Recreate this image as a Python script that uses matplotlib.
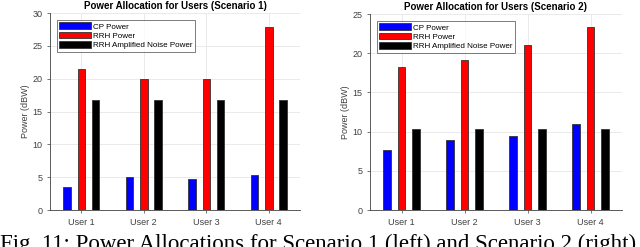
import matplotlib
matplotlib.use("Agg")
import matplotlib.pyplot as plt
import numpy as np

users = ["User 1", "User 2", "User 3", "User 4"]
series = ["CP Power", "RRH Power", "RRH Amplified Noise Power"]
colors = ["#0000ff", "#ff0000", "#000000"]

s1_cp = [3.5, 5.0, 4.7, 5.3]
s1_rrh = [21.5, 20.0, 20.0, 27.9]
s1_noise = [16.8, 16.8, 16.8, 16.8]

s2_cp = [7.6, 8.9, 9.5, 11.0]
s2_rrh = [18.3, 19.1, 21.1, 23.3]
s2_noise = [10.3, 10.3, 10.3, 10.3]

plt.rcParams["font.family"] = ["Liberation Sans", "DejaVu Sans"]

fig = plt.figure(figsize=(6.4, 2.47), dpi=100)
ax1 = fig.add_axes([50 / 640, 1 - 210 / 247, 250 / 640, 197 / 247])
ax2 = fig.add_axes([370 / 640, 1 - 210 / 247, 252 / 640, 196 / 247])

x = np.arange(1, len(users) + 1)
offsets = [-0.23, 0.0, 0.23]
width = 0.12


def draw(ax, data, ymax, title):
    for vals, off, c, lab in zip(data, offsets, colors, series):
        ax.bar(x + off, vals, width, color=c, edgecolor="#333333", lw=0.6,
               label=lab, zorder=3)
    ax.set_xlim(0.5, 4.5)
    ax.set_ylim(0, ymax)
    ax.set_xticks(x)
    ax.set_xticklabels(users)
    ax.set_yticks(np.arange(0, ymax + 1, 5))
    ax.grid(True, color="#e6e6e6", lw=0.6, zorder=0)
    ax.tick_params(labelsize=6.5, colors="#404040", length=2, width=0.5)
    for side in ["top", "right"]:
        ax.spines[side].set_visible(False)
    for side in ["left", "bottom"]:
        ax.spines[side].set_color("#404040")
        ax.spines[side].set_linewidth(0.6)
    ax.set_ylabel("Power (dBW)", fontsize=6.5, color="#404040", labelpad=2)
    ax.set_title(title, fontsize=7, fontweight="bold", pad=3)
    leg = ax.legend(loc="upper left", fontsize=5.8, fancybox=False,
                    handlelength=4.0, handleheight=0.9, borderpad=0.3,
                    labelspacing=0.15, handletextpad=0.2,
                    bbox_to_anchor=(0.01, 0.985))
    leg.get_frame().set_edgecolor("#404040")
    leg.get_frame().set_linewidth(0.6)


draw(ax1, [s1_cp, s1_rrh, s1_noise], 30, "Power Allocation for Users (Scenario 1)")
draw(ax2, [s2_cp, s2_rrh, s2_noise], 25, "Power Allocation for Users (Scenario 2)")

fig.text(0.0, -0.012, "Fig. 11: Power Allocations for Scenario 1 (left) and Scenario 2 (right)",
         fontsize=16.5, family=["Liberation Serif", "DejaVu Serif"], va="baseline")

plt.savefig("out.png", dpi=100)
